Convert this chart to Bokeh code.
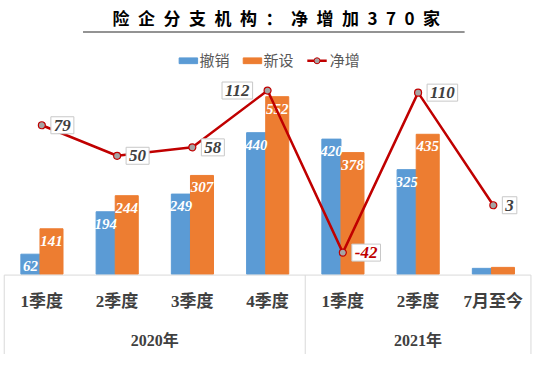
from bokeh.plotting import figure
from bokeh.models import Range1d, ColumnDataSource
from bokeh.core.properties import value
from bokeh.embed import file_html
from bokeh.resources import INLINE

# ---------------- data ----------------
TITLE = "险企分支机构：净增加370家"
SERIES = ["撤销", "新设", "净增"]
QUARTERS = ["1季度", "2季度", "3季度", "4季度", "1季度", "2季度", "7月至今"]
YEARS = ["2020年", "2021年"]
YEAR_COUNTS = [4, 3]
REVOKED = [62, 194, 249, 440, 420, 325, 18]
NEW = [141, 244, 307, 552, 378, 435, 21]
NET = [79, 50, 58, 112, -42, 110, 3]
SHOW_BAR_LABEL = [True, True, True, True, True, True, False]
NET_LABEL_SIDE = ["right", "right", "right", "left", "right", "right", "right"]

# ---------------- style ----------------
BLUE = "#5B9BD5"
ORANGE = "#ED7D31"
RED = "#C00000"
DARK = "#404040"
GRID = "#d9d9d9"
NUM_FONT = value("Liberation Serif")
LBL_FONT = value("Liberation Serif, Noto Sans CJK SC")
CJK_FONT = value("Noto Sans CJK SC")

W, H = 534, 354
p = figure(width=W, height=H, output_backend="svg", toolbar_location=None,
           x_range=Range1d(0, 550), y_range=Range1d(370, 0),
           x_axis_type=None, y_axis_type=None, min_border=0)
p.grid.visible = False
p.outline_line_color = None
p.background_fill_color = "white"
p.border_fill_color = "white"

# category scale (index units), bar value scale, net value scale
p.extra_x_ranges = {"cat": Range1d(-42.6 / 77.5, (550 - 42.6) / 77.5)}
p.extra_y_ranges = {"bars": Range1d(-84 / 0.336, 286 / 0.336),
                    "net": Range1d(-(370 - 217.3) / 1.10, 217.3 / 1.10)}

idx = list(range(len(QUARTERS)))
BW_BLUE, BW_OR = 0.254, 0.306
OFF_BLUE, OFF_OR = -0.152, 0.128

bars = ColumnDataSource(dict(
    xb=[i + OFF_BLUE for i in idx], xo=[i + OFF_OR for i in idx],
    rev=REVOKED, new=NEW))
p.vbar(x="xb", top="rev", bottom=0, width=BW_BLUE, source=bars, color=BLUE,
       x_range_name="cat", y_range_name="bars")
p.vbar(x="xo", top="new", bottom=0, width=BW_OR, source=bars, color=ORANGE,
       x_range_name="cat", y_range_name="bars")

# bar value labels
lb = ColumnDataSource(dict(
    x=[i + OFF_BLUE for i, s in zip(idx, SHOW_BAR_LABEL) if s],
    y=[v for v, s in zip(REVOKED, SHOW_BAR_LABEL) if s],
    t=[str(v) for v, s in zip(REVOKED, SHOW_BAR_LABEL) if s]))
lo = ColumnDataSource(dict(
    x=[i + OFF_OR for i, s in zip(idx, SHOW_BAR_LABEL) if s],
    y=[v for v, s in zip(NEW, SHOW_BAR_LABEL) if s],
    t=[str(v) for v, s in zip(NEW, SHOW_BAR_LABEL) if s]))
for src in (lb, lo):
    p.text(x="x", y="y", text="t", source=src, x_range_name="cat", y_range_name="bars",
           text_color="white", text_font=NUM_FONT, text_font_style="bold italic",
           text_font_size="15px", text_align="center", text_baseline="middle",
           y_offset=12)

# net line
p.line(x=idx, y=NET, x_range_name="cat", y_range_name="net", line_color=RED, line_width=2.5)
p.scatter(x=idx, y=NET, x_range_name="cat", y_range_name="net", size=7,
          fill_color="#a5a5a5", line_color=RED, line_width=1.2)

for side, align, xo in (("right", "left", 9), ("left", "right", -15)):
    sel = [i for i in idx if NET_LABEL_SIDE[i] == side]
    src = ColumnDataSource(dict(x=sel, y=[NET[i] for i in sel], t=[str(NET[i]) for i in sel],
                                c=[RED if NET[i] < 0 else DARK for i in sel]))
    p.text(x="x", y="y", text="t", source=src, x_range_name="cat", y_range_name="net",
           text_color="c", text_font=NUM_FONT, text_font_style="bold italic",
           text_font_size="17px", text_align=align, text_baseline="middle",
           x_offset=xo, background_fill_color="white", border_line_color="#c8c8c8",
           border_line_width=1, padding=3)

# category axis box
bounds = [-0.5]
for c in YEAR_COUNTS:
    bounds.append(bounds[-1] + c)
p.segment(x0=[bounds[0]], x1=[bounds[-1]], y0=[287], y1=[287], x_range_name="cat",
          line_color=GRID, line_width=1)
p.segment(x0=bounds, x1=bounds, y0=[287] * len(bounds), y1=[370] * len(bounds),
          x_range_name="cat", line_color=GRID, line_width=1)
p.text(x=idx, y=[315] * len(idx), text=QUARTERS, x_range_name="cat",
       text_color=DARK, text_font=LBL_FONT, text_font_style="bold", text_font_size="17px",
       text_align="center", text_baseline="middle")
ycent = [(bounds[k] + bounds[k + 1]) / 2 for k in range(len(YEARS))]
p.text(x=ycent, y=[355.5] * len(YEARS), text=YEARS, x_range_name="cat",
       text_color=DARK, text_font=LBL_FONT, text_font_style="bold", text_font_size="16px",
       text_align="center", text_baseline="middle")

# title
p.text(x=[284], y=[17.6], text=["\u2002".join(TITLE)], text_color="black", text_font=CJK_FONT,
       text_font_style="bold", text_font_size="17px", text_align="center", text_baseline="middle")
p.line(x=[85, 478], y=[33, 33], line_color="#6f6f6f", line_width=1.5)

# legend
p.rect(x=[193.5], y=[63], width=19, height=6, color=BLUE)
p.rect(x=[259.5], y=[63], width=19, height=6, color=ORANGE)
p.line(x=[316, 336], y=[63, 63], line_color=RED, line_width=2.5)
p.scatter(x=[326], y=[63], size=6, fill_color="#a5a5a5", line_color=RED, line_width=1)
p.text(x=[205, 271, 339], y=[62, 62, 62], text=SERIES, text_color="#595959",
       text_font=CJK_FONT, text_font_size="15px", text_align="left", text_baseline="middle")

open("out.html", "w").write(file_html(p, INLINE))
